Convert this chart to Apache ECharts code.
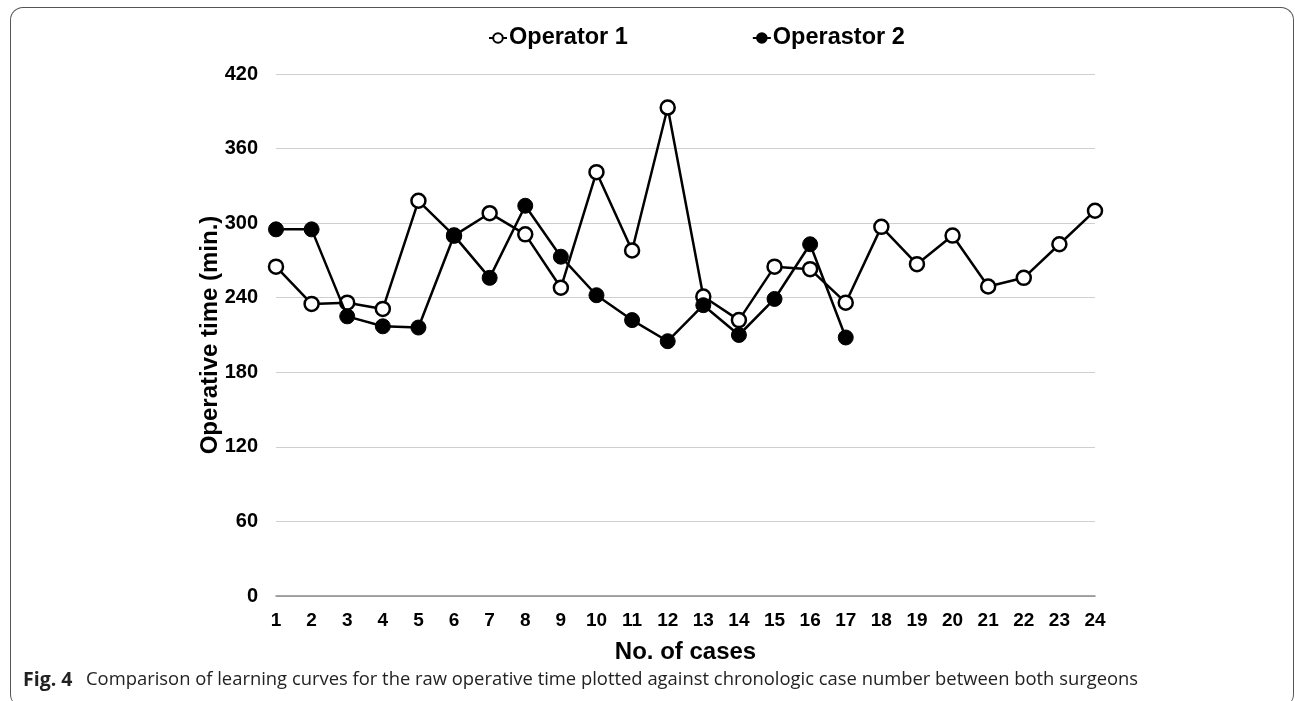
<!DOCTYPE html>
<html><head><meta charset="utf-8">
<script src="https://cdn.jsdelivr.net/npm/echarts@6/dist/echarts.min.js"></script>
<style>
html,body{margin:0;padding:0;background:#fff;}
#frame{position:absolute;left:10px;top:7px;width:1284px;height:700px;border:1.5px solid #555;border-bottom:none;border-radius:13px;box-sizing:border-box;}
#c{position:absolute;left:0;top:0;width:1295px;height:701px;}
</style></head>
<body>
<div id="frame"></div>
<div id="c"></div>
<script>
const categories = ['1','2','3','4','5','6','7','8','9','10','11','12','13','14','15','16','17','18','19','20','21','22','23','24'];
const operator1 = [265,235,236,231,318,290,308,291,248,341,278,393,241,222,265,263,236,297,267,290,249,256,283,310];
const operator2 = [295,295,225,217,216,290,256,314,273,242,222,205,234,210,239,283,208,null,null,null,null,null,null,null];
const yTicks = {min:0, max:420, interval:60};

const chart = echarts.init(document.getElementById('c'));
const F = 'Liberation Sans, Arial, sans-serif';
chart.setOption({
  animation:false,
  legend:{
    top:21, left:483, itemGap:124, itemWidth:18, itemHeight:12,
    textStyle:{fontFamily:F, fontWeight:'bold', fontSize:23.5, color:'#000', padding:[0,0,0,-3]},
    data:['Operator 1','Operastor 2']
  },
  grid:{left:276, right:200, top:74, bottom:105},
  xAxis:{
    type:'category', data:categories, boundaryGap:false,
    axisLine:{lineStyle:{color:'#8a8a8a', width:1.5}},
    axisTick:{show:false},
    axisLabel:{fontFamily:F, fontWeight:'bold', fontSize:19, color:'#000', margin:15},
    name:'No. of cases', nameLocation:'middle', nameGap:44, nameMoveOverlap:false,
    nameTextStyle:{fontFamily:F, fontWeight:'bold', fontSize:24, color:'#000'}
  },
  yAxis:{
    type:'value', min:yTicks.min, max:yTicks.max, interval:yTicks.interval,
    axisLine:{show:false}, axisTick:{show:false},
    splitLine:{lineStyle:{color:'#cfcfcf', width:1.2}},
    axisLabel:{fontFamily:F, fontWeight:'bold', fontSize:20, color:'#000', margin:18},
    name:'Operative time (min.)', nameLocation:'middle', nameGap:54, nameMoveOverlap:false,
    nameTextStyle:{fontFamily:F, fontWeight:'bold', fontSize:24, color:'#000'}
  },
  series:[
    {name:'Operator 1', type:'line', data:operator1, symbol:'circle', symbolSize:14,
     lineStyle:{color:'#000', width:2.5}, itemStyle:{color:'#fff', borderColor:'#000', borderWidth:2.5}, z:2},
    {name:'Operastor 2', type:'line', data:operator2, symbol:'circle', symbolSize:15,
     lineStyle:{color:'#000', width:2.5}, itemStyle:{color:'#000', borderColor:'#000', borderWidth:1}, z:3}
  ],
  graphic:[
    {type:'text', left:23, top:670, style:{text:'Fig. 4', font:'bold 19.5px "Open Sans", sans-serif', fill:'#222'}},
    {type:'text', left:86, top:671, style:{text:'Comparison of learning curves for the raw operative time plotted against chronologic case number between both surgeons', font:'18.4px "Open Sans", sans-serif', fill:'#222'}}
  ]
});
</script>
</body></html>
